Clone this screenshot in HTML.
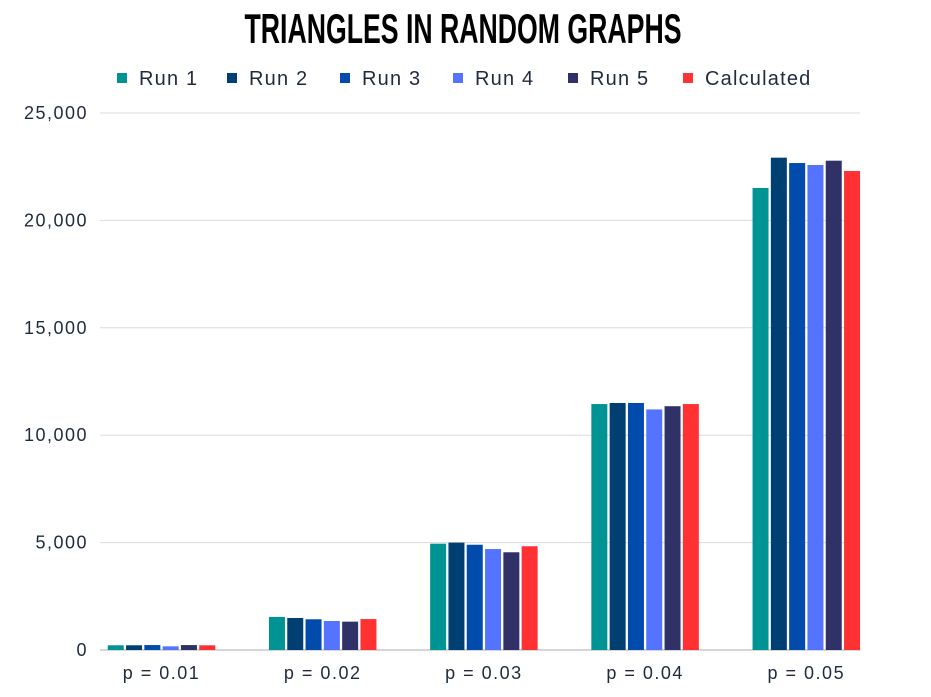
<!DOCTYPE html>
<html><head><meta charset="utf-8"><style>
html,body{margin:0;padding:0;background:#fff;}
svg{display:block;}
</style></head><body>
<svg id="chart" width="931" height="697" viewBox="0 0 931 697" xmlns="http://www.w3.org/2000/svg">
<rect x="0" y="0" width="931" height="697" fill="#fff"/>
<text x="463" y="43" text-anchor="middle" textLength="437" lengthAdjust="spacingAndGlyphs" font-family="'Liberation Sans Narrow','Liberation Sans',sans-serif" font-weight="bold" font-size="42" fill="#000">TRIANGLES IN RANDOM GRAPHS</text>
<g id="legend"></g>
<g id="grid"></g>
<g id="bars"></g>
<g id="labels"></g>
</svg>
<script>
const categories = ["p = 0.01","p = 0.02","p = 0.03","p = 0.04","p = 0.05"];
const seriesNames = ["Run 1","Run 2","Run 3","Run 4","Run 5","Calculated"];
const run1 = [220,1540,4950,11450,21510];
const run2 = [220,1490,5000,11500,22920];
const run3 = [230,1430,4900,11500,22670];
const run4 = [170,1350,4700,11200,22580];
const run5 = [230,1320,4550,11350,22780];
const calculated = [220,1440,4830,11450,22300];
const yTicks = [0,5000,10000,15000,20000,25000];
const yTickLabels = ["0","5,000","10,000","15,000","20,000","25,000"];

const series=[run1,run2,run3,run4,run5,calculated];
const colors=["#009394","#003f72","#004bac","#5473ff","#303267","#ff3133"];
const NS="http://www.w3.org/2000/svg";
const y0=650, yTop=113, yMax=25000;
function yScale(v){return y0-(v/yMax)*(y0-yTop);}
const catW=161.2, firstCenter=161.5;
function xCenter(i){return firstCenter+i*catW;}
const pitch=18.3, barW=16;
function mk(tag,attrs,parent){const e=document.createElementNS(NS,tag);for(const k in attrs)e.setAttribute(k,attrs[k]);parent.appendChild(e);return e;}
const font="'Liberation Sans',sans-serif";
const txtCol="#1f2b3d";

const grid=document.getElementById('grid');
const labels=document.getElementById('labels');
yTicks.forEach((t,i)=>{
  const y=yScale(t);
  const l=mk('line',{x1:100,x2:860,y1:y,y2:y,stroke:t===0?'#c8c8cc':'#dcdcdc','stroke-width':t===0?1.5:1},grid);
  
  
  const tx=mk('text',{x:88,y:y+6,'text-anchor':'end','font-family':font,'font-size':18,'letter-spacing':1.5,fill:txtCol},labels);
  tx.textContent=yTickLabels[i];
  
  
});
categories.forEach((c,i)=>{
  const tx=mk('text',{x:xCenter(i),y:679,'text-anchor':'middle','font-family':font,'font-size':18,'letter-spacing':1.5,fill:txtCol},labels);
  tx.textContent=c;
  
  
});
const bars=document.getElementById('bars');
series.forEach((s,si)=>{
  s.forEach((v,ci)=>{
    const x=xCenter(ci)+(si-2.5)*pitch-barW/2;
    const y=yScale(v);
    const r=mk('rect',{x:x,y:y,width:barW,height:y0-y,fill:colors[si]},bars);
    
    
  });
});
const legend=document.getElementById('legend');
const lx=[117,227,340,453,568,683];
seriesNames.forEach((n,i)=>{
  const g=mk('g',{},legend);
  
  
  mk('rect',{x:lx[i],y:73,width:10,height:10,fill:colors[i]},g);
  const t=mk('text',{x:lx[i]+22,y:85,'font-family':font,'font-size':20,'letter-spacing':1.2,fill:txtCol},g);
  t.textContent=n;
});
</script>
</body></html>
